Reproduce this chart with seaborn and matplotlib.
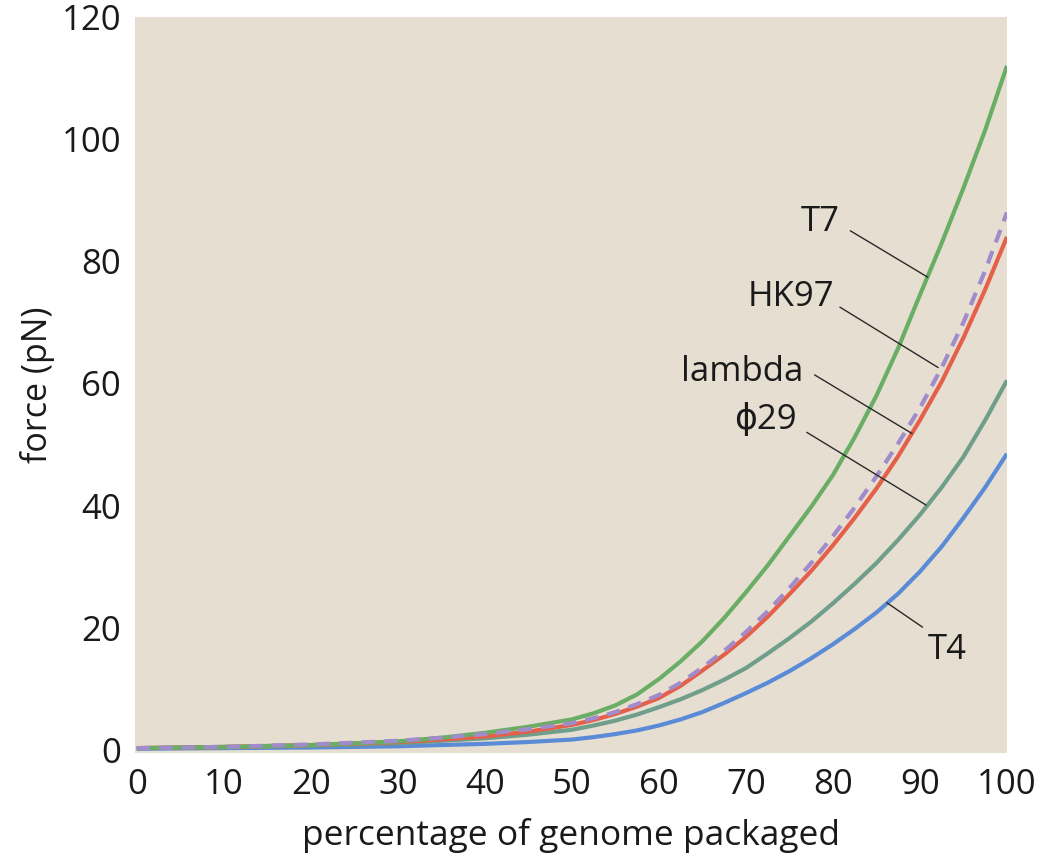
import matplotlib
matplotlib.use("Agg")
import matplotlib.pyplot as plt
import seaborn as sns
import pandas as pd

# ---- data ----
pct = [0, 10, 20, 30, 35, 40, 45, 50, 52.5, 55, 57.5, 60, 62.5, 65, 67.5, 70,
       72.5, 75, 77.5, 80, 82.5, 85, 87.5, 90, 92.5, 95, 97.5, 100]
force_T7 = [0.3, 0.5, 0.8, 1.4, 2.0, 2.8, 3.8, 5.0, 6.0, 7.3, 9.1, 11.6, 14.5, 17.8, 21.6, 25.8,
            30.2, 35.0, 39.8, 45.0, 51.2, 58.0, 65.8, 74.5, 83.0, 92.0, 101.5, 112.0]
force_HK97 = [0.3, 0.5, 0.9, 1.5, 2.0, 2.6, 3.4, 4.4, 5.2, 6.2, 7.5, 9.0, 11.0, 13.5, 16.2, 19.3,
              22.7, 26.5, 30.6, 35.0, 39.7, 44.8, 50.2, 56.0, 62.6, 70.0, 78.5, 88.0]
force_lambda = [0.3, 0.5, 0.8, 1.3, 1.7, 2.2, 3.0, 4.1, 4.9, 5.9, 7.1, 8.5, 10.5, 13.0, 15.6, 18.5,
                21.8, 25.5, 29.3, 33.5, 38.0, 42.8, 48.1, 54.0, 60.3, 67.5, 75.4, 84.0]
force_phi29 = [0.3, 0.4, 0.7, 1.1, 1.5, 1.9, 2.5, 3.3, 4.0, 4.8, 5.8, 7.0, 8.3, 9.8, 11.5, 13.4,
               15.8, 18.3, 21.0, 24.0, 27.2, 30.6, 34.4, 38.5, 43.0, 48.0, 54.0, 60.5]
force_T4 = [0.2, 0.3, 0.4, 0.6, 0.8, 1.0, 1.3, 1.7, 2.1, 2.6, 3.2, 4.0, 5.0, 6.2, 7.7, 9.3,
            11.0, 12.9, 15.0, 17.3, 19.8, 22.5, 25.6, 29.2, 33.3, 38.0, 43.0, 48.5]

series_names = ["T7", "HK97", "lambda", "\u03d529", "T4"]
x_ticks = [0, 10, 20, 30, 40, 50, 60, 70, 80, 90, 100]
y_ticks = [0, 20, 40, 60, 80, 100, 120]

# ---- style ----
colors = {"T7": "#6aad64", "HK97": "#a08bcb", "lambda": "#e4604b",
          "\u03d529": "#6f9e8b", "T4": "#5b8bd6"}
bg = "#e6dfd1"

sns.set_theme(style="white")
plt.rcParams["font.family"] = ["Open Sans", "DejaVu Sans"]

fig = plt.figure(figsize=(10.45, 8.59), dpi=100)
ax = fig.add_axes([0.1292, 0.1234, 0.8344, 0.8568])
ax.set_facecolor(bg)

data = {"T7": force_T7, "HK97": force_HK97, "lambda": force_lambda,
        "\u03d529": force_phi29, "T4": force_T4}
draw_order = ["T4", "\u03d529", "lambda", "T7", "HK97"]
for name in draw_order:
    df = pd.DataFrame({"pct": pct, "force": data[name]})
    sns.lineplot(data=df, x="pct", y="force", ax=ax, lw=3.0, color=colors[name])
    ln = ax.lines[-1]
    ln.set_solid_capstyle("butt")
    ln.set_solid_joinstyle("round")
    if name == "HK97":
        ln.set_dashes([3.2, 2.2])
        ln.set_dash_capstyle("butt")

ax.set_xlim(-0.2, 100)
ax.set_ylim(-0.5, 120)
ax.set_xticks(x_ticks)
ax.set_yticks(y_ticks)
ax.set_xticklabels([str(v) for v in x_ticks])
ax.set_yticklabels([str(v) for v in y_ticks])
for s in ax.spines.values():
    s.set_visible(False)
ax.tick_params(axis="x", direction="in", length=12, width=1.6, color="white",
               labelsize=25, pad=11, labelcolor="#1a1a1a")
ax.tick_params(axis="y", length=0, labelsize=25, pad=10, labelcolor="#1a1a1a")
ax.grid(False)

ax.set_xlabel("percentage of genome packaged", fontsize=25.5, labelpad=11, color="#1a1a1a")
ax.set_ylabel("force (pN)", fontsize=24.5, labelpad=5, color="#1a1a1a")

# ---- labels with leader lines ----
labels = [
    ("T7", (80.8, 86.4), "right", (82.0, 85.0), (90.9, 77.4)),
    ("HK97", (80.2, 74.1), "right", (80.8, 72.5), (92.1, 62.6)),
    ("lambda", (76.6, 61.9), "right", (77.9, 61.4), (89.1, 51.8)),
    ("\u03d529", (75.9, 54.0), "right", (77.0, 52.0), (90.7, 40.1)),
    ("T4", (90.9, 16.4), "left", (86.2, 24.1), (90.3, 20.1)),
]
for text, pos, ha, p0, p1 in labels:
    ax.text(pos[0], pos[1], text, ha=ha, va="center", fontsize=25, color="#1a1a1a")
    ax.plot([p0[0], p1[0]], [p0[1], p1[1]], color="#2a2a2a", lw=1.0)

fig.savefig("out.png", dpi=100)
